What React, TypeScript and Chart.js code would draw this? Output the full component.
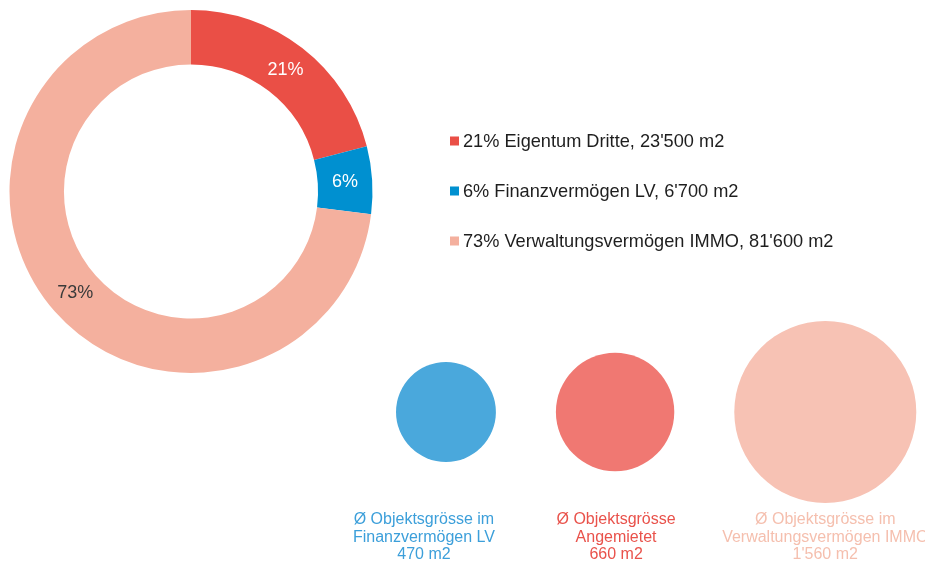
import React, { useEffect, useRef } from "react";
import { Chart, registerables } from "chart.js";

Chart.register(...registerables);

// ---- Data ----
const shareLabels = ["Eigentum Dritte", "Finanzvermögen LV", "Verwaltungsvermögen IMMO"];
const sharePercent = [21, 6, 73];
const shareArea = ["23'500", "6'700", "81'600"];
const shareColors = ["#EA4F46", "#0090D0", "#F4B09E"];
const shareLabelColors = ["#FFFFFF", "#FFFFFF", "#3A3A3A"];

const sizeTitles = [
  ["Ø Objektsgrösse im", "Finanzvermögen LV"],
  ["Ø Objektsgrösse", "Angemietet"],
  ["Ø Objektsgrösse im", "Verwaltungsvermögen IMMO"],
];
const sizeValues = [470, 660, 1560];
const sizeValueLabels = ["470 m2", "660 m2", "1'560 m2"];
const bubbleColors = ["#4AA8DC", "#F07872", "#F7C2B4"];
const bubbleTextColors = ["#3C9FDA", "#E9524B", "#F5BFAE"];

const W = 925;
const H = 565;
const FONT = "'Liberation Sans', Arial, Helvetica, sans-serif";

// bubble layout (area proportional radii, placed side by side with a constant gap)
const RADIUS_SCALE = 2.304;
const BUBBLE_GAP = 60;
const BUBBLE_START = 396;
const BUBBLE_ROW = 412;

function bubblePoints() {
  const pts: { x: number; y: number; r: number }[] = [];
  let edge = BUBBLE_START;
  sizeValues.forEach((v) => {
    const r = Math.sqrt(v) * RADIUS_SCALE;
    pts.push({ x: edge + r, y: BUBBLE_ROW, r });
    edge = edge + 2 * r + BUBBLE_GAP;
  });
  return pts;
}

const doughnutLabelsPlugin = {
  id: "doughnutLabels",
  afterDatasetsDraw(chart: any) {
    const ctx = chart.ctx;
    const meta = chart.getDatasetMeta(0);
    ctx.save();
    ctx.font = `18px ${FONT}`;
    ctx.textAlign = "center";
    ctx.textBaseline = "middle";
    meta.data.forEach((arc: any, i: number) => {
      const p = arc.tooltipPosition(false);
      ctx.fillStyle = shareLabelColors[i];
      ctx.fillText(`${sharePercent[i]}%`, p.x, p.y);
    });
    ctx.restore();
  },
};

const legendPlugin = {
  id: "customLegend",
  afterDraw(chart: any) {
    const ctx = chart.ctx;
    ctx.save();
    ctx.font = `18.2px ${FONT}`;
    ctx.textAlign = "left";
    ctx.textBaseline = "middle";
    shareLabels.forEach((lab, i) => {
      const y = 141 + i * 50;
      ctx.fillStyle = shareColors[i];
      ctx.fillRect(450, y - 4.5, 9, 9);
      ctx.fillStyle = "#1E1E1E";
      ctx.fillText(`${sharePercent[i]}% ${lab}, ${shareArea[i]} m2`, 463, y + 0.5);
    });
    ctx.restore();
  },
};

const bubbleLabelsPlugin = {
  id: "bubbleLabels",
  afterDatasetsDraw(chart: any) {
    const ctx = chart.ctx;
    const meta = chart.getDatasetMeta(0);
    const offsets = [-22, 1, 0];
    ctx.save();
    ctx.font = `16px ${FONT}`;
    ctx.textAlign = "center";
    ctx.textBaseline = "middle";
    meta.data.forEach((el: any, i: number) => {
      const x = el.x + offsets[i];
      const lines = [...sizeTitles[i], sizeValueLabels[i]];
      ctx.fillStyle = bubbleTextColors[i];
      lines.forEach((t, j) => {
        ctx.fillText(t, x, 520 + j * 17.5);
      });
    });
    ctx.restore();
  },
};

export default function App() {
  const donutRef = useRef<HTMLCanvasElement | null>(null);
  const bubbleRef = useRef<HTMLCanvasElement | null>(null);

  useEffect(() => {
    if (!donutRef.current || !bubbleRef.current) return;
    const donut = new Chart(donutRef.current, {
      type: "doughnut",
      data: {
        labels: shareLabels,
        datasets: [
          {
            data: sharePercent,
            backgroundColor: shareColors,
            borderWidth: 0,
            hoverOffset: 0,
          },
        ],
      },
      options: {
        responsive: false,
        animation: false,
        events: [],
        cutout: "70%",
        layout: { padding: { left: 9.5, top: 10, right: 552.5, bottom: 192 } },
        plugins: {
          legend: { display: false },
          tooltip: { enabled: false },
        },
      },
      plugins: [doughnutLabelsPlugin, legendPlugin],
    });

    const pts = bubblePoints();
    // Chart.js reserves the largest bubble radius as padding on every side;
    // choose scale limits so that scale units equal canvas pixels.
    const pad = Math.max(...pts.map((p) => p.r));
    const bubble = new Chart(bubbleRef.current, {
      type: "bubble",
      data: {
        datasets: [
          {
            data: pts,
            backgroundColor: bubbleColors,
            borderWidth: 0,
            hoverBorderWidth: 0,
            hoverRadius: 0,
            clip: false,
          },
        ],
      },
      options: {
        responsive: false,
        animation: false,
        events: [],
        layout: { padding: 0 },
        scales: {
          x: { type: "linear", min: pad, max: W - pad, display: false },
          y: { type: "linear", min: pad, max: H - pad, reverse: true, display: false },
        },
        plugins: {
          legend: { display: false },
          tooltip: { enabled: false },
        },
      },
      plugins: [bubbleLabelsPlugin],
    });

    return () => {
      donut.destroy();
      bubble.destroy();
    };
  }, []);

  return (
    <div style={{ position: "absolute", left: 0, top: 0, width: W, height: H, background: "#fff" }}>
      <canvas ref={donutRef} width={W} height={H} style={{ position: "absolute", left: 0, top: 0 }} />
      <canvas ref={bubbleRef} width={W} height={H} style={{ position: "absolute", left: 0, top: 0 }} />
    </div>
  );
}
